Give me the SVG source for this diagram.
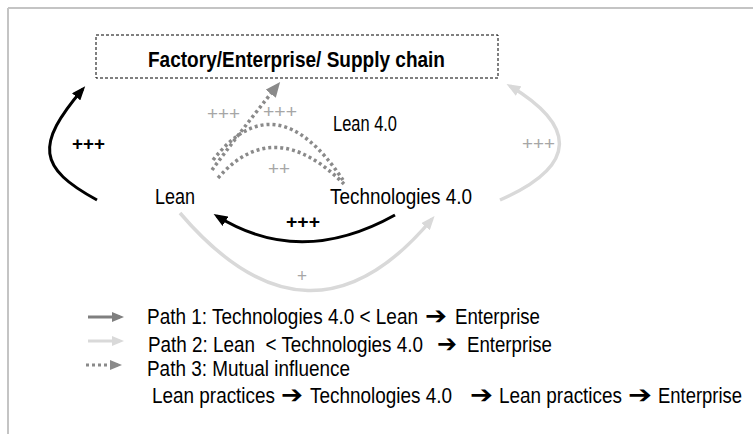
<svg xmlns="http://www.w3.org/2000/svg" width="753" height="434" viewBox="0 0 753 434">
<style>
.t{font-family:"Liberation Sans Narrow","Liberation Sans",Arial,sans-serif;font-size:22px;fill:#000;white-space:pre}
.b{font-weight:bold}
.p{font-family:"Liberation Sans",Arial,sans-serif;font-size:19px;fill:#a6a6a6}
.pb{font-family:"Liberation Sans",Arial,sans-serif;font-size:19px;font-weight:bold;fill:#000}
.ar{font-family:"DejaVu Sans",sans-serif;font-size:25px;font-weight:bold;fill:#000}
.blk{fill:none;stroke:#000;stroke-width:3}
.lgt{fill:none;stroke:#d9d9d9;stroke-width:3.5}
.dk{fill:none;stroke:#7f7f7f;stroke-width:3}
.dot{fill:none;stroke:#8a8a8a;stroke-width:3.5;stroke-dasharray:3 3}
</style>
<defs>
<marker id="hB" viewBox="0 0 14 11" markerWidth="14" markerHeight="11" refX="10" refY="5.5" orient="auto" markerUnits="userSpaceOnUse"><path d="M0,0 L14,5.5 L0,11 z" fill="#000"/></marker>
<marker id="hL" viewBox="0 0 14 11" markerWidth="14" markerHeight="11" refX="10" refY="5.5" orient="auto" markerUnits="userSpaceOnUse"><path d="M0,0 L14,5.5 L0,11 z" fill="#d9d9d9"/></marker>
<marker id="hD" viewBox="0 0 12 10" markerWidth="12" markerHeight="10" refX="8" refY="5" orient="auto" markerUnits="userSpaceOnUse"><path d="M0,0 L12,5 L0,10 z" fill="#7f7f7f"/></marker>
<marker id="hT" viewBox="0 0 15 13" markerWidth="15" markerHeight="13" refX="10" refY="6.5" orient="auto" markerUnits="userSpaceOnUse"><path d="M0,0 L15,6.5 L0,13 z" fill="#8a8a8a"/></marker>
<marker id="hLs" viewBox="0 0 12 10" markerWidth="12" markerHeight="10" refX="8" refY="5" orient="auto" markerUnits="userSpaceOnUse"><path d="M0,0 L12,5 L0,10 z" fill="#d9d9d9"/></marker>
<marker id="hTs" viewBox="0 0 12 10" markerWidth="12" markerHeight="10" refX="8" refY="5" orient="auto" markerUnits="userSpaceOnUse"><path d="M0,0 L12,5 L0,10 z" fill="#8a8a8a"/></marker>
</defs>

<g id="frame">
<path d="M8,8 H753 M8,8 V434" fill="none" stroke="#c4c4c4" stroke-width="2"/>
</g>

<g id="enterprise">
<rect x="96" y="35" width="402" height="43" fill="#fff" stroke="#000" stroke-width="1" stroke-dasharray="3 2"/>
<text class="t b" x="148" y="67" textLength="297" lengthAdjust="spacingAndGlyphs">Factory/Enterprise/ Supply chain</text>
</g>

<g id="lean">
<text class="t" x="155" y="204" textLength="40" lengthAdjust="spacingAndGlyphs">Lean</text>
</g>
<g id="technologies">
<text class="t" x="330" y="204" textLength="142" lengthAdjust="spacingAndGlyphs">Technologies 4.0</text>
</g>
<g id="lean40">
<text class="t" x="333" y="131" textLength="64" lengthAdjust="spacingAndGlyphs">Lean 4.0</text>
</g>

<g id="connectors">
<path class="blk" d="M97,200 C38,168 35,145 82.6,89.2" marker-end="url(#hB)"/>
<path class="blk" d="M395,215 Q300,268 217,216" marker-end="url(#hB)"/>
<path class="lgt" d="M180,213 Q310,365 432,219" marker-end="url(#hL)"/>
<path class="lgt" d="M500,200 C580,165 575,125 510,86" marker-end="url(#hL)"/>
<path class="dot" d="M212,170 Q240,132 277,86" marker-end="url(#hT)"/>
<path class="dot" d="M213,160 Q276,80 343,180"/>
<path class="dot" d="M218,178 Q274,114 344,184"/>
</g>

<g id="labels">
<text class="pb" x="72" y="150" textLength="33" lengthAdjust="spacingAndGlyphs">+++</text>
<text class="p" x="207" y="120" textLength="33" lengthAdjust="spacingAndGlyphs">+++</text>
<text class="p" x="263" y="118" textLength="34" lengthAdjust="spacingAndGlyphs">+++</text>
<text class="p" x="268" y="175" textLength="22" lengthAdjust="spacingAndGlyphs">++</text>
<text class="p" x="522" y="150" textLength="33" lengthAdjust="spacingAndGlyphs">+++</text>
<text class="pb" x="286" y="228" textLength="34" lengthAdjust="spacingAndGlyphs">+++</text>
<text class="p" x="297" y="282" textLength="10" lengthAdjust="spacingAndGlyphs">+</text>
</g>

<g id="legend">
<path class="dk" d="M88,317 H120" marker-end="url(#hD)"/>
<text class="t" x="147" y="324" textLength="271" lengthAdjust="spacingAndGlyphs">Path 1: Technologies 4.0 &lt; Lean</text>
<text class="ar" x="425" y="324" textLength="22" lengthAdjust="spacingAndGlyphs">➔</text>
<text class="t" x="455" y="324" textLength="85" lengthAdjust="spacingAndGlyphs">Enterprise</text>

<path class="lgt" style="stroke-width:3" d="M88,341 H120" marker-end="url(#hLs)"/>
<text class="t" x="148" y="352" textLength="275" lengthAdjust="spacingAndGlyphs">Path 2: Lean  &lt; Technologies 4.0</text>
<text class="ar" x="437" y="352" textLength="20" lengthAdjust="spacingAndGlyphs">➔</text>
<text class="t" x="467" y="352" textLength="85" lengthAdjust="spacingAndGlyphs">Enterprise</text>

<path class="dot" style="stroke-width:3" d="M86,365 H118" marker-end="url(#hTs)"/>
<text class="t" x="147" y="376" textLength="203" lengthAdjust="spacingAndGlyphs">Path 3: Mutual influence</text>

<text class="t" x="152" y="403" textLength="123" lengthAdjust="spacingAndGlyphs">Lean practices</text>
<text class="ar" x="281" y="403" textLength="22" lengthAdjust="spacingAndGlyphs">➔</text>
<text class="t" x="310" y="403" textLength="142" lengthAdjust="spacingAndGlyphs">Technologies 4.0</text>
<text class="ar" x="470" y="403" textLength="23" lengthAdjust="spacingAndGlyphs">➔</text>
<text class="t" x="499" y="403" textLength="123" lengthAdjust="spacingAndGlyphs">Lean practices</text>
<text class="ar" x="628" y="403" textLength="24" lengthAdjust="spacingAndGlyphs">➔</text>
<text class="t" x="658" y="403" textLength="84" lengthAdjust="spacingAndGlyphs">Enterprise</text>
</g>
</svg>
